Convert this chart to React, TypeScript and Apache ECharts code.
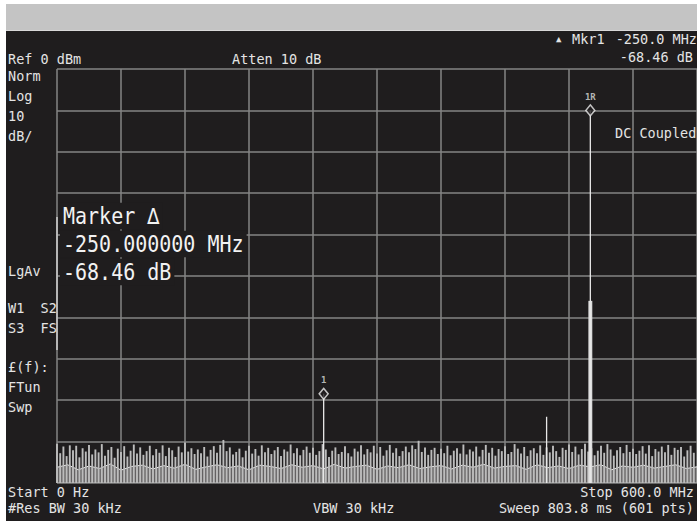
import React, { useEffect, useRef } from "react";
import * as echarts from "echarts";

// ---- Data ----
// Frequency axis (MHz) and amplitude axis (dBm)
const FREQ_MIN = 0;
const FREQ_MAX = 600;
const FREQ_DIV = 60;
const LEVEL_MIN = -100;
const LEVEL_MAX = 0;
const LEVEL_DIV = 10;

// Noise floor: trace tops sampled every 3 MHz (0 .. 597 MHz)
const NOISE_STEP = 3;
const noiseTop = [
  -90.5, -92.8, -91.2, -93.5, -90.9, -92.1, -91.0, -93.8, -91.6, -92.4,
  -90.8, -93.1, -91.9, -92.6, -90.6, -93.4, -92.0, -91.3, -93.9, -91.7,
  -92.5, -91.1, -93.6, -92.2, -90.7, -92.9, -91.4, -93.2, -92.3, -91.0,
  -93.3, -91.8, -92.7, -90.9, -93.5, -91.5, -92.1, -93.7, -91.2, -92.6,
  -90.2, -92.4, -91.6, -93.0, -91.9, -92.8, -91.3, -93.6, -92.0, -91.1,
  -92.7, -90.8, -89.6, -92.3, -91.4, -93.1, -92.5, -91.7, -93.8, -92.2,
  -91.0, -92.9, -91.8, -93.4, -90.9, -92.6, -91.5, -93.0, -92.1, -91.3,
  -93.5, -91.9, -92.4, -90.7, -92.8, -91.6, -93.3, -92.0, -91.2, -92.7,
  -91.5, -93.2, -92.3, -90.6, -91.9, -93.7, -92.2, -91.4, -93.0, -92.5,
  -91.1, -92.8, -93.6, -91.7, -92.4, -90.9, -93.1, -91.8, -92.6, -91.0,
  -92.9, -91.3, -93.4, -92.1, -90.8, -92.7, -91.6, -93.5, -92.3, -91.2,
  -92.6, -90.9, -91.8, -89.8, -92.5, -91.4, -93.2, -92.0, -91.5, -93.0,
  -91.7, -92.8, -91.0, -93.3, -92.2, -91.6, -92.9, -90.7, -93.1, -91.9,
  -92.4, -91.2, -93.6, -92.0, -90.8, -92.7, -91.5, -93.4, -91.8, -92.3,
  -91.1, -93.0, -92.5, -90.6, -91.7, -92.9, -91.3, -93.5, -92.1, -91.6,
  -92.8, -90.9, -93.2, -91.4, -92.6, -91.0, -92.3, -93.7, -91.5, -92.0,
  -90.7, -92.5, -91.2, -93.1, -91.8, -90.5, -92.4, -91.6, -93.3, -92.2,
  -91.0, -92.7, -90.6, -91.9, -93.4, -92.1, -91.3, -92.8, -90.8, -92.5,
  -91.7, -93.0, -92.2, -91.1, -92.9, -90.9, -93.5, -91.8, -92.4, -91.2,
  -92.6, -90.8, -93.2, -91.5, -92.0, -91.3, -93.6, -92.1, -91.0, -92.7,
];

// Lower envelope of the noise band, every 10 MHz (0 .. 600 MHz)
const LOW_STEP = 10;
const noiseLow = [
  -96.2, -95.6, -96.8, -95.9, -96.5, -95.4, -96.9, -96.0, -95.7, -96.6,
  -95.8, -96.4, -95.5, -96.7, -96.1, -95.6, -96.3, -95.9, -96.8, -95.7,
  -96.0, -96.5, -95.6, -96.2, -95.8, -96.6, -95.5, -96.4, -96.0, -95.7,
  -96.7, -95.9, -96.3, -95.6, -96.5, -96.1, -95.8, -96.6, -95.7, -96.2,
  -95.5, -96.4, -96.0, -95.8, -96.7, -95.6, -96.3, -95.9, -96.5, -95.7,
  -96.1, -95.6, -96.8, -95.9, -96.2, -95.7, -96.4, -96.0, -95.6, -96.5,
  -96.1,
];

// Signals rising above the noise
const peakFreqs = [250, 459, 500];
const peakLevels = [-78.46, -84, -10];
// Skirt of the main carrier
const skirtFreqs = [499, 501];
const skirtLevels = [-56, -56];

// Markers
const markerNames = ["1", "1R"];
const markerFreqs = [250, 500];
const markerLevels = [-78.46, -10];

// Annotation texts
const topLeftText = "Ref 0 dBm";
const attenText = "Atten 10 dB";
const mkrLabel = "Mkr1";
const mkrFreqText = "-250.0 MHz";
const mkrLevelText = "-68.46 dB";
const sideLabels1 = ["Norm", "Log", "10", "dB/"];
const sideLabels2 = ["LgAv"];
const sideLabels3 = ["W1  S2", "S3  FS"];
const sideLabels4 = ["£(f):", "FTun", "Swp"];
const bigMarkerLines = ["Marker ∆", "-250.000000 MHz", "-68.46 dB"];
const startText = "Start 0 Hz";
const stopText = "Stop 600.0 MHz";
const rbwText = "#Res BW 30 kHz";
const vbwText = "VBW 30 kHz";
const sweepText = "Sweep 803.8 ms (601 pts)";
const couplingText = "DC Coupled";

const MONO = "DejaVu Sans Mono";
const TXT = "#e4e4e4";
const BG = "#1f1d1e";

function smallText(text: string, x: number, y: number, align = "left") {
  return {
    type: "text",
    z: 50,
    x,
    y,
    scaleY: 1.1,
    style: {
      text,
      fill: TXT,
      font: `13.5px "${MONO}"`,
      align,
      textAlign: align,
      verticalAlign: "middle",
      textVerticalAlign: "middle",
    },
  };
}

function bigText(text: string, x: number, y: number) {
  return {
    type: "text",
    z: 60,
    x,
    y,
    scaleY: 1.15,
    style: {
      text,
      fill: "#f2f2f2",
      font: `20px "${MONO}"`,
      align: "left",
      textAlign: "left",
      verticalAlign: "middle",
      textVerticalAlign: "middle",
      backgroundColor: BG,
      padding: [2, 3, 1, 3],
    },
  };
}

export default function App() {
  const ref = useRef<HTMLDivElement>(null);

  useEffect(() => {
    if (!ref.current) return;
    const chart = echarts.init(ref.current, undefined, { renderer: "svg" });

    const noiseData = noiseTop.map((v, i) => [FREQ_MIN + i * NOISE_STEP, v]);
    const lowData = noiseLow.map((v, i) => [FREQ_MIN + i * LOW_STEP, v]);
    const peakData = peakFreqs.map((f, i) => [f, peakLevels[i]]);
    const skirtData = skirtFreqs.map((f, i) => [f, skirtLevels[i]]);
    const markerData = markerFreqs.map((f, i) => ({
      value: [f, markerLevels[i]],
      name: markerNames[i],
    }));

    const barRender = (w: number, fill: string) => (params: any, api: any) => {
      const top = api.coord([api.value(0), api.value(1)]);
      const bot = api.coord([api.value(0), LEVEL_MIN]);
      return {
        type: "rect",
        shape: { x: top[0] - w / 2, y: top[1], width: w, height: bot[1] - top[1] },
        style: { fill },
      };
    };

    const graphics: any[] = [
      { type: "rect", z: -10, shape: { x: 6, y: 4, width: 700, height: 26 }, style: { fill: "#c4c4c4" } },
      { type: "rect", z: -10, shape: { x: 6, y: 30, width: 700, height: 491 }, style: { fill: BG } },
      { type: "line", z: -9, shape: { x1: 6, y1: 30.5, x2: 697, y2: 30.5 }, style: { stroke: "#d8d8d8", lineWidth: 1 } },
      smallText(topLeftText, 8, 59),
      smallText(attenText, 232, 59),
      {
        type: "text",
        z: 50,
        x: 556,
        y: 39,
        style: { text: "▲", fill: TXT, font: `9px "${MONO}"`, align: "left", textAlign: "left", verticalAlign: "middle", textVerticalAlign: "middle" },
      },
      smallText(mkrLabel, 572, 39),
      smallText(mkrFreqText, 697, 39, "right"),
      smallText(mkrLevelText, 693, 57, "right"),
      ...sideLabels1.map((t, i) => smallText(t, 8, 76 + i * 20)),
      ...sideLabels2.map((t) => smallText(t, 8, 271)),
      ...sideLabels3.map((t, i) => smallText(t, 8, 308 + i * 20)),
      ...sideLabels4.map((t, i) => smallText(t, 8, 367 + i * 20)),
      smallText(startText, 8, 492),
      smallText(rbwText, 8, 508),
      smallText(vbwText, 313, 508),
      smallText(stopText, 694, 492, "right"),
      smallText(sweepText, 694, 508, "right"),
      smallText(couplingText, 615, 133),
      { type: "line", z: 40, shape: { x1: 57, y1: 217, x2: 57, y2: 350 }, style: { stroke: "#d0d0d0", lineWidth: 1.5 } },
      ...bigMarkerLines.map((t, i) => bigText(t, 60, [216, 244, 272][i])),
    ];

    chart.setOption({
      animation: false,
      backgroundColor: "#ffffff",
      grid: { left: 57, top: 69, width: 642, height: 414, containLabel: false },
      xAxis: {
        type: "value",
        min: FREQ_MIN,
        max: FREQ_MAX,
        interval: FREQ_DIV,
        axisLine: { show: false },
        axisTick: { show: false },
        axisLabel: { show: false },
        splitLine: { show: true, lineStyle: { color: "#858585", width: 1.5 } },
      },
      yAxis: {
        type: "value",
        min: LEVEL_MIN,
        max: LEVEL_MAX,
        interval: LEVEL_DIV,
        axisLine: { show: false },
        axisTick: { show: false },
        axisLabel: { show: false },
        splitLine: { show: true, lineStyle: { color: "#858585", width: 1.5 } },
      },
      graphic: { elements: graphics },
      series: [
        {
          type: "line",
          data: lowData,
          showSymbol: false,
          symbol: "none",
          lineStyle: { color: "#f0f0f0", width: 1 },
          areaStyle: { color: "rgba(225,225,225,0.5)", origin: "start" },
          z: 2,
        },
        {
          type: "custom",
          data: noiseData,
          renderItem: barRender(1.9, "#bcbcbc"),
          z: 3,
        },
        {
          type: "custom",
          data: skirtData,
          renderItem: barRender(1.8, "#dcdcdc"),
          z: 4,
        },
        {
          type: "custom",
          data: peakData,
          renderItem: barRender(1.3, "#e8e8e8"),
          z: 5,
        },
        {
          type: "scatter",
          data: markerData,
          symbol: "diamond",
          symbolSize: [9, 11],
          itemStyle: { color: BG, borderColor: "#ececec", borderWidth: 1.5 },
          label: {
            show: true,
            position: "top",
            distance: 3,
            formatter: (p: any) => p.name,
            color: "#dddddd",
            fontSize: 9,
            fontWeight: "bold",
            fontFamily: MONO,
          },
          z: 6,
        },
      ],
    });

    return () => chart.dispose();
  }, []);

  return (
    <div
      ref={ref}
      style={{ position: "absolute", left: 0, top: 0, width: 697, height: 524 }}
    />
  );
}
